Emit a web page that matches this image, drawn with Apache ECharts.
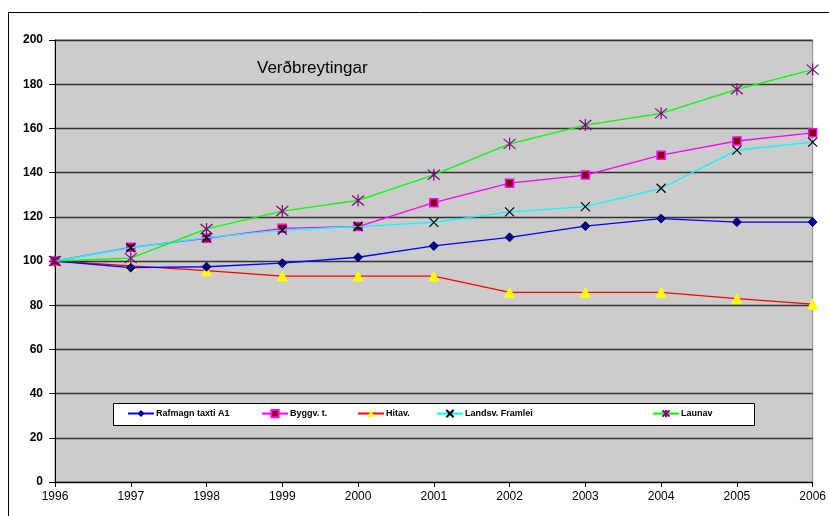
<!DOCTYPE html>
<html>
<head>
<meta charset="utf-8">
<script src="https://cdn.jsdelivr.net/npm/echarts@6/dist/echarts.min.js"></script>
<style>
  html, body { margin: 0; padding: 0; background: #fff; }
  #chart { width: 829px; height: 516px; }
</style>
</head>
<body>
<div id="chart"></div>
<script>
// ár
var years = ["1996", "1997", "1998", "1999", "2000", "2001", "2002", "2003", "2004", "2005", "2006"];

// vísitölur, 1996 = 100
var rafmagn = [100, 97, 97.4, 99, 101.7, 106.8, 110.7, 115.8, 119.2, 117.6, 117.6];
var byggv = [100, 106.2, 110.3, 114.8, 115.6, 126.4, 135.2, 138.9, 147.9, 154.3, 158];
var hitav = [100, 97.8, 95.6, 93.2, 93.2, 93.2, 85.8, 85.8, 85.8, 83, 80.5];
var lands = [100, 106, 110.6, 114, 115.6, 117.5, 122.2, 124.6, 132.9, 150.2, 153.8];
var launav = [100, 101.3, 114.5, 122.6, 127.4, 139, 153, 161.5, 166.8, 177.7, 186.6];

var names = ["Rafmagn taxti A1", "Byggv. t.", "Hitav.", "Landsv. Framlei", "Launav"];

var crossPath = "path://M0,0L10,10M10,0L0,10";
var starPath = "path://M0,0L10,10M10,0L0,10M5,-1L5,11";

var myChart = echarts.init(document.getElementById("chart"));

function legendItem(name, left) {
  return {
    data: [name],
    left: left,
    top: 409,
    z: 20,
    itemWidth: 26,
    itemHeight: 9,
    itemGap: 0,
    padding: 0,
    textStyle: { fontFamily: "Liberation Sans", fontSize: 9, fontWeight: "bold", color: "#000", padding: [0, 0, 0, -3] }
  };
}

var option = {
  animation: false,
  backgroundColor: "#fff",
  title: {
    text: "Verðbreytingar",
    left: 257,
    top: 60,
    padding: 0,
    textStyle: { fontFamily: "Liberation Sans", fontSize: 17, fontWeight: "normal", color: "#000" }
  },
  graphic: [
    {
      type: "rect",
      shape: { x: 8.5, y: 12.5, width: 840, height: 530 },
      style: { fill: "none", stroke: "#000", lineWidth: 1 },
      silent: true
    },
    {
      type: "rect",
      z: 2,
      shape: { x: 113.5, y: 403.5, width: 641, height: 22 },
      style: { fill: "#fff", stroke: "#000", lineWidth: 1 },
      silent: true
    }
  ],
  legend: [
    legendItem(names[0], 127),
    legendItem(names[1], 261),
    legendItem(names[2], 357),
    legendItem(names[3], 436),
    legendItem(names[4], 652)
  ],
  grid: {
    left: 55,
    right: 16,
    top: 40,
    bottom: 34,
    show: true,
    backgroundColor: "#cccccc",
    borderColor: "#8a8a8a",
    borderWidth: 1
  },
  xAxis: {
    type: "category",
    data: years,
    boundaryGap: false,
    axisLine: { lineStyle: { color: "#000", width: 1 } },
    axisTick: { show: true, length: 5, alignWithLabel: true, lineStyle: { color: "#000" } },
    axisLabel: { color: "#000", fontFamily: "Liberation Sans", fontSize: 12, margin: 9 },
    splitLine: { show: false }
  },
  yAxis: {
    type: "value",
    min: 0,
    max: 200,
    interval: 20,
    axisLine: { show: true, lineStyle: { color: "#000", width: 1 } },
    axisTick: { show: true, length: 6, lineStyle: { color: "#000" } },
    axisLabel: { color: "#000", fontFamily: "Liberation Sans", fontSize: 12, fontWeight: "bold", margin: 12 },
    splitLine: { show: true, lineStyle: { color: "#333", width: 1.3 } }
  },
  series: [
    {
      name: names[0],
      type: "line",
      data: rafmagn,
      symbol: "diamond",
      symbolSize: 9,
      lineStyle: { color: "#0000ff", width: 1.3 },
      itemStyle: { color: "#000080", borderColor: "#000080" },
      z: 3
    },
    {
      name: names[1],
      type: "line",
      data: byggv,
      symbol: "rect",
      symbolSize: 8,
      lineStyle: { color: "#ff00ff", width: 1.3 },
      itemStyle: { color: "#800000", borderColor: "#ff00ff", borderWidth: 1.5 },
      z: 4
    },
    {
      name: names[2],
      type: "line",
      data: hitav,
      symbol: "triangle",
      symbolSize: 10,
      lineStyle: { color: "#ff0000", width: 1.3 },
      itemStyle: { color: "#ffff00", borderColor: "#ffff00" },
      z: 2
    },
    {
      name: names[3],
      type: "line",
      data: lands,
      symbol: crossPath,
      symbolSize: 9,
      lineStyle: { color: "#00ffff", width: 1.3 },
      itemStyle: { color: "rgba(0,0,0,0)", borderColor: "#000", borderWidth: 1.2 },
      z: 5
    },
    {
      name: names[4],
      type: "line",
      data: launav,
      symbol: starPath,
      symbolSize: 12,
      lineStyle: { color: "#00ff00", width: 1.3 },
      itemStyle: { color: "rgba(0,0,0,0)", borderColor: "#800080", borderWidth: 1.2 },
      z: 6
    }
  ]
};

myChart.setOption(option);
</script>
</body>
</html>
